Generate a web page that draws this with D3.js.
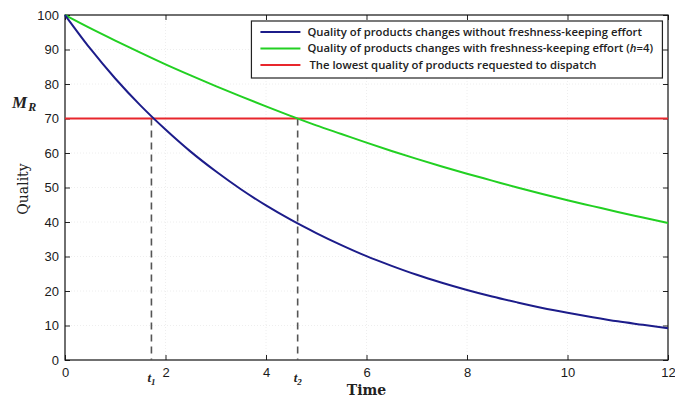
<!DOCTYPE html>
<html>
<head>
<meta charset="utf-8">
<script src="https://cdn.jsdelivr.net/npm/d3@7"></script>
<style>
  body { margin: 0; background: #fff; }
  .tick text { font-family: "Liberation Sans", Arial, sans-serif; font-size: 13px; fill: #1a1a1a; }
</style>
</head>
<body>
<div id="chart"></div>
<script>
// time samples and quality values
var times = [0, 0.5, 1, 1.5, 2, 2.5, 3, 3.5, 4, 4.5, 5, 5.5, 6, 6.5, 7, 7.5, 8, 8.5, 9, 9.5, 10, 10.5, 11, 11.5, 12];
var noEffort = [100, 90.3, 81.6, 73.8, 66.8, 60.4, 54.7, 49.5, 44.8, 40.6, 36.8, 33.3, 30.1, 27.3, 24.7, 22.4, 20.3, 18.4, 16.7, 15.1, 13.7, 12.4, 11.2, 10.2, 9.2];
var withEffort = [100, 96.2, 92.6, 89.1, 85.7, 82.5, 79.4, 76.4, 73.5, 70.7, 68.0, 65.5, 63.0, 60.6, 58.3, 56.1, 54.0, 52.0, 50.0, 48.1, 46.3, 44.6, 42.9, 41.3, 39.7];
var minQuality = 70;
var t1 = 1.72, t2 = 4.63;
var xTicks = [0, 2, 4, 6, 8, 10, 12];
var yTicks = [0, 10, 20, 30, 40, 50, 60, 70, 80, 90, 100];
var legendLabels = [
  "Quality of products changes without freshness-keeping effort",
  "Quality of products changes with freshness-keeping effort (",
  "The lowest quality of products requested to dispatch"
];

var W = 675, H = 398;
var margin = {top: 15, right: 7, bottom: 38, left: 65};
var width = W - margin.left - margin.right;
var height = H - margin.top - margin.bottom;

var svg = d3.select("#chart").append("svg")
    .attr("width", W)
    .attr("height", H)
  .append("g")
    .attr("transform", "translate(" + margin.left + "," + margin.top + ")");

var x = d3.scaleLinear().domain([0, 12]).range([0, width]);
var y = d3.scaleLinear().domain([0, 100]).range([height, 0]);

// faint grid
svg.append("g").selectAll("line").data(xTicks.slice(1, -1)).enter().append("line")
    .attr("x1", d => x(d)).attr("x2", d => x(d)).attr("y1", 0).attr("y2", height)
    .style("stroke", "#eeeeee").style("stroke-dasharray", "1,2");
svg.append("g").selectAll("line").data(yTicks.slice(1, -1)).enter().append("line")
    .attr("x1", 0).attr("x2", width).attr("y1", d => y(d)).attr("y2", d => y(d))
    .style("stroke", "#eeeeee").style("stroke-dasharray", "1,2");

// axes, ticks pointing inward
var xAxis = svg.append("g")
    .attr("transform", "translate(0," + height + ")")
    .call(d3.axisBottom(x).tickValues(xTicks).tickSizeInner(-5).tickSizeOuter(0).tickPadding(10));
var yAxis = svg.append("g")
    .call(d3.axisLeft(y).tickValues(yTicks).tickSizeInner(-5).tickSizeOuter(0).tickPadding(6));
svg.append("g")
    .call(d3.axisTop(x).tickValues(xTicks).tickSizeInner(-5).tickSizeOuter(0).tickFormat(""));
svg.append("g")
    .attr("transform", "translate(" + width + ",0)")
    .call(d3.axisRight(y).tickValues(yTicks).tickSizeInner(-5).tickSizeOuter(0).tickFormat(""));
svg.selectAll(".domain").remove();
svg.selectAll(".tick line").style("stroke", "#222");
xAxis.selectAll(".tick text").attr("dy", "0.5em");

// plot box
svg.append("rect")
    .attr("width", width).attr("height", height)
    .style("fill", "none").style("stroke", "#111").style("stroke-width", 1.2);

// dashed drop lines
svg.selectAll(".drop").data([t1, t2]).enter().append("line")
    .attr("class", "drop")
    .attr("x1", d => x(d)).attr("x2", d => x(d))
    .attr("y1", y(minQuality)).attr("y2", height)
    .style("stroke", "#555").style("stroke-width", 1.6).style("stroke-dasharray", "7,5");

// threshold
svg.append("line")
    .attr("x1", 0).attr("x2", width).attr("y1", y(minQuality)).attr("y2", y(minQuality))
    .style("stroke", "#e8262c").style("stroke-width", 2.2);

var line = d3.line().curve(d3.curveMonotoneX);
svg.append("path")
    .datum(times.map((t, i) => [x(t), y(withEffort[i])]))
    .attr("d", line)
    .style("fill", "none").style("stroke", "#22d022").style("stroke-width", 2);
svg.append("path")
    .datum(times.map((t, i) => [x(t), y(noEffort[i])]))
    .attr("d", line)
    .style("fill", "none").style("stroke", "#1c1c8a").style("stroke-width", 2);

// t1, t2 labels
svg.selectAll(".tlab").data([["t", "1", t1], ["t", "2", t2]]).enter().append("text")
    .attr("x", d => x(d[2]) - 4).attr("y", height + 22)
    .style("font-family", "'Liberation Serif', serif").style("font-style", "italic")
    .style("font-weight", "bold").style("font-size", "13px").style("fill", "#222")
    .text(d => d[0])
  .append("tspan").attr("dy", 3).style("font-size", "9px").text(d => d[1]);

// axis titles
svg.append("text")
    .attr("x", x(6)).attr("y", height + 35)
    .attr("text-anchor", "middle")
    .style("font-family", "'DejaVu Serif', serif").style("font-weight", "bold")
    .style("font-size", "14px").style("fill", "#222")
    .text("Time");
svg.append("text")
    .attr("transform", "translate(" + (-37) + "," + 174 + ") rotate(-90)")
    .attr("text-anchor", "middle")
    .style("font-family", "'DejaVu Serif', serif")
    .style("font-size", "14px").style("fill", "#222")
    .text("Quality");
var mr = svg.append("text")
    .attr("x", -53).attr("y", y(minQuality) - 11)
    .style("font-family", "'Liberation Serif', serif").style("font-style", "italic")
    .style("font-weight", "bold").style("font-size", "17px").style("fill", "#222")
    .text("M");
mr.append("tspan").attr("dy", 3).attr("dx", 1).style("font-size", "12px").text("R");

// legend
var lg = svg.append("g").attr("transform", "translate(" + (x(3.71)) + ",6)");
lg.append("rect")
    .attr("width", 411).attr("height", 57)
    .style("fill", "#fff").style("stroke", "#222").style("stroke-width", 1.2);
var legendColors = ["#1c1c8a", "#22d022", "#e8262c"];
var items = lg.selectAll(".item").data(legendLabels).enter().append("g")
    .attr("transform", (d, i) => "translate(0," + (11 + i * 16.5) + ")");
items.append("line")
    .attr("x1", 9).attr("x2", 49)
    .style("stroke", (d, i) => legendColors[i]).style("stroke-width", 2);
var lt = items.append("text")
    .attr("x", (d, i) => i === 2 ? 58 : 56).attr("dy", "0.35em")
    .style("font-family", "'Open Sans', sans-serif").style("font-weight", 600)
    .style("font-size", "11.3px").style("fill", "#222")
    .text(d => d);
lt.filter((d, i) => i === 1).each(function() {
  var t = d3.select(this);
  t.append("tspan").style("font-style", "italic").text("h");
  t.append("tspan").text("=4)");
});
</script>
</body>
</html>
